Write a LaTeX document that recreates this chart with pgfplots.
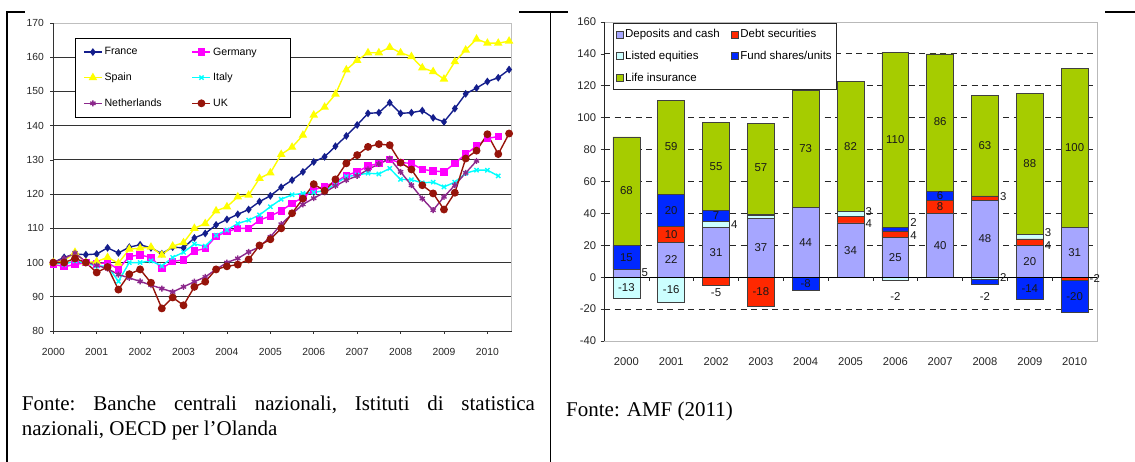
\documentclass[border=0pt]{standalone}
\usepackage{fontspec}
\setmainfont{Liberation Sans}
\newfontfamily\capfont{Liberation Serif}
\usepackage{pgfplots}
\usepackage{pgfplotstable}
\pgfplotsset{compat=1.18}

\definecolor{cFR}{RGB}{20,30,140}
\definecolor{cDE}{RGB}{255,0,255}
\definecolor{cES}{RGB}{255,255,0}
\definecolor{cIT}{RGB}{0,255,255}
\definecolor{cNL}{RGB}{140,40,140}
\definecolor{cUK}{RGB}{150,20,10}
\definecolor{cDep}{RGB}{166,166,255}
\definecolor{cDebt}{RGB}{255,40,0}
\definecolor{cList}{RGB}{204,255,255}
\definecolor{cFund}{RGB}{0,40,255}
\definecolor{cLife}{RGB}{166,204,0}

\pgfplotstableread{
x dep debt list fund life
0 5 0 0 15 68
1 22 10 0 20 59
2 31 0 4 7 55
3 37 0 1.5 1 57
4 44 0 0 0 73
5 34 4 3 0 82
6 25 4 0 2 110
7 40 8 0 6 86
8 48 3 0 0 63
9 20 4 3 0 88
10 31 0 0 0 100
}\posdata

\pgfplotstableread{
x dep debt list fund
0 0 0 -13 0
1 0 0 -16 0
2 0 -5 0 0
3 0 -18 0 0
4 0 0 0 -8
5 0 0 0 0
6 0 0 -2 0
7 0 0 0 0
8 0 0 -1.2 -3
9 0 0 0 -14
10 0 -2 0 -20
}\negdata

\pgfplotstableread{
x y l
0 54 68
0 12.5 15
0 -6.5 -13
1 82 59
1 42 20
1 27 10
1 11 22
1 -8 -16
2 69.5 55
2 38.5 7
2 15.5 31
2 -9.5 -5
3 68.5 57
3 18.5 37
3 -9 -18
4 80.5 73
4 22 44
4 -4 -8
5 82 82
5 17 34
6 86.5 110
6 12.5 25
6 -12 -2
7 97.5 86
7 51 6
7 44 8
7 20 40
8 82.5 63
8 24 48
8 -12 -2
9 71 88
9 10 20
9 -7 -14
10 81 100
10 15.5 31
10 -12 -20
}\labc

\pgfplotstableread{
x y l
0.3 3 5
2.3 33 4
5.3 41 3
5.3 33.5 4
6.3 34.5 2
6.3 26 4
8.3 50.5 3
8.3 0 2
9.3 28 3
9.3 20 4
10.3 -1 -2
}\labs

\pgfplotsset{
  rbox/.style={at={(604pt,121pt)}, anchor=south west, scale only axis,
    width=493pt, height=319pt, xmin=-0.5, xmax=10.5, ymin=-40, ymax=160},
  barst/.style={draw=black!75, line width=0.6pt},
}

\begin{document}
\begin{tikzpicture}
\useasboundingbox (0,0) rectangle (1135pt,462pt);

% ---------------- left chart ----------------
\begin{axis}[
  at={(53.3pt,131pt)}, anchor=south west,
  scale only axis, width=458.4pt, height=308pt,
  xmin=2000, xmax=2010.56, ymin=80, ymax=170,
  xtick={2000,2001,...,2010},
  ytick={90,100,...,160}, extra y ticks={80,170}, extra y tick style={grid=none},
  /pgf/number format/1000 sep={},
  /pgf/number format/assume math mode=true,
  tick label style={font=\fontsize{10.3}{12}\selectfont, text=black!85},
  xtick pos=left, ytick pos=left, tick align=outside, major tick length=3pt,
  tick style={black!80, line width=0.6pt},
  yticklabel style={xshift=-3pt},
  xticklabel style={yshift=-11pt},
  ymajorgrids, grid style={black!80, line width=0.8pt},
  axis line style={gray!50, line width=0.8pt},
  clip=false,
  legend columns=2,
  legend cell align=left,
  legend image code/.code={\draw[mark repeat=2,mark phase=2,#1] plot coordinates {(0pt,0pt) (9pt,0pt) (18pt,0pt)};},
  legend style={at={(0.047,0.952)}, anchor=north west, draw=black, line width=0.7pt, fill=white,
    font=\fontsize{10.6}{12}\selectfont, inner xsep=8pt, inner ysep=7.5pt, row sep=12.5pt,
    /tikz/every even column/.append style={column sep=28pt}},
]
\addplot[color=cFR, line width=1.4pt, mark=diamond*, mark size=2.8pt] coordinates {
(2000.00,100) (2000.25,101.5) (2000.50,102.5) (2000.75,102.3) (2001.00,102.5) (2001.25,104.3) (2001.50,102.8) (2001.75,104.5)
(2002.00,105.2) (2002.25,104.3) (2002.50,102.6) (2002.75,104.5) (2003.00,104.3) (2003.25,107.2) (2003.50,108.5) (2003.75,111)
(2004.00,112.6) (2004.25,114.1) (2004.50,115.5) (2004.75,117.8) (2005.00,119.5) (2005.25,122) (2005.50,124.1) (2005.75,126.5)
(2006.00,129.4) (2006.25,130.9) (2006.50,134) (2006.75,137) (2007.00,140.2) (2007.25,143.6) (2007.50,143.8) (2007.75,146.7)
(2008.00,143.6) (2008.25,143.8) (2008.50,144.4) (2008.75,142.3) (2009.00,141.1) (2009.25,145) (2009.50,149.3) (2009.75,151)
(2010.00,152.9) (2010.25,154) (2010.50,156.4)};
\addlegendentry{France}
\addplot[color=cDE, line width=1.4pt, mark=square*, mark size=3pt] coordinates {
(2000.00,99.5) (2000.25,98.8) (2000.50,99.4) (2000.75,100) (2001.00,99.6) (2001.25,100) (2001.50,98) (2001.75,101.8)
(2002.00,102.2) (2002.25,101.5) (2002.50,98.3) (2002.75,100.3) (2003.00,100.8) (2003.25,103.4) (2003.50,104.1) (2003.75,107.7)
(2004.00,109) (2004.25,110) (2004.50,110) (2004.75,112.4) (2005.00,113.6) (2005.25,115.1) (2005.50,117.3) (2005.75,119)
(2006.00,121.2) (2006.25,122.3) (2006.50,123.5) (2006.75,125.5) (2007.00,126.5) (2007.25,128.2) (2007.50,129) (2007.75,130.1)
(2008.00,129.2) (2008.25,129) (2008.50,127.2) (2008.75,126.8) (2009.00,126.5) (2009.25,129) (2009.50,131.7) (2009.75,134)
(2010.00,136.3) (2010.25,136.8)};
\addlegendentry{Germany\hspace*{24pt}}
\addplot[color=cES, line width=1.4pt, mark=triangle*, mark size=3.6pt] coordinates {
(2000.00,100) (2000.25,100.5) (2000.50,103) (2000.75,100) (2001.00,100.3) (2001.25,101.5) (2001.50,99.8) (2001.75,103.9)
(2002.00,104.2) (2002.25,104.5) (2002.50,102.2) (2002.75,104.8) (2003.00,105.8) (2003.25,110) (2003.50,111.4) (2003.75,115.1)
(2004.00,116.3) (2004.25,119.2) (2004.50,119.7) (2004.75,124.6) (2005.00,126.2) (2005.25,131.6) (2005.50,133.7) (2005.75,137.2)
(2006.00,143.1) (2006.25,145.4) (2006.50,149.2) (2006.75,156.3) (2007.00,159.1) (2007.25,161.3) (2007.50,161.3) (2007.75,162.9)
(2008.00,161.3) (2008.25,160.2) (2008.50,156.9) (2008.75,155.8) (2009.00,153.6) (2009.25,158.7) (2009.50,162.1) (2009.75,165.3)
(2010.00,164.1) (2010.25,164.1) (2010.50,164.7)};
\addlegendentry{Spain}
\addplot[color=cIT, line width=1.4pt, mark=x, mark size=3pt] coordinates {
(2000.00,100) (2000.25,99.5) (2000.50,100.5) (2000.75,99.8) (2001.00,99) (2001.25,99) (2001.50,94.5) (2001.75,100)
(2002.00,100) (2002.25,100.5) (2002.50,99) (2002.75,101.5) (2003.00,103) (2003.25,105.4) (2003.50,104.8) (2003.75,108)
(2004.00,109.5) (2004.25,111.4) (2004.50,112.4) (2004.75,113.9) (2005.00,116.3) (2005.25,118.5) (2005.50,119.8) (2005.75,120.2)
(2006.00,120.5) (2006.25,121) (2006.50,123) (2006.75,125.1) (2007.00,125.6) (2007.25,126.1) (2007.50,125.9) (2007.75,127.5)
(2008.00,124.3) (2008.25,124.2) (2008.50,123.3) (2008.75,123.5) (2009.00,122.1) (2009.25,123.5) (2009.50,126.1) (2009.75,127)
(2010.00,127) (2010.25,125.3)};
\addlegendentry{Italy}
\addplot[color=cNL, line width=1.4pt, mark=asterisk, mark size=3pt] coordinates {
(2000.00,100) (2000.25,101.2) (2000.50,102.8) (2000.75,100.2) (2001.00,99.2) (2001.25,98.2) (2001.50,96.5) (2001.75,95.5)
(2002.00,94.5) (2002.25,93.4) (2002.50,92.4) (2002.75,91.4) (2003.00,92.9) (2003.25,94.4) (2003.50,95.8) (2003.75,98)
(2004.00,100) (2004.25,101.2) (2004.50,103.1) (2004.75,104.6) (2005.00,107.5) (2005.25,111.2) (2005.50,114.2) (2005.75,117)
(2006.00,118.8) (2006.25,120.5) (2006.50,122.4) (2006.75,124.1) (2007.00,125.3) (2007.25,127.2) (2007.50,128.8) (2007.75,130.4)
(2008.00,126.5) (2008.25,122.6) (2008.50,118.7) (2008.75,115.3) (2009.00,119.2) (2009.25,122.6) (2009.50,126.2) (2009.75,129.7)};
\addlegendentry{Netherlands}
\addplot[color=cUK, line width=1.4pt, mark=*, mark size=3.2pt] coordinates {
(2000.00,100) (2000.25,100) (2000.50,101.2) (2000.75,100) (2001.00,97.1) (2001.25,98.7) (2001.50,92.1) (2001.75,96.6)
(2002.00,98) (2002.25,94.1) (2002.50,86.6) (2002.75,89.8) (2003.00,87.5) (2003.25,92.9) (2003.50,94.4) (2003.75,98)
(2004.00,98.9) (2004.25,99.4) (2004.50,100.9) (2004.75,105) (2005.00,106.8) (2005.25,110) (2005.50,114.4) (2005.75,118.7)
(2006.00,122.9) (2006.25,121) (2006.50,124.3) (2006.75,129) (2007.00,131.4) (2007.25,133.8) (2007.50,134.6) (2007.75,134.3)
(2008.00,129.2) (2008.25,127.2) (2008.50,122.6) (2008.75,120.2) (2009.00,115.5) (2009.25,120.4) (2009.50,130.4) (2009.75,132.7)
(2010.00,137.5) (2010.25,131.7) (2010.50,137.7)};
\addlegendentry{UK}
\draw[black!80, line width=0.8pt] (rel axis cs:0,1) -- (rel axis cs:0,0) -- (rel axis cs:1,0);
\end{axis}

% ---------------- right chart: positive stack ----------------
\begin{axis}[rbox,
  ybar stacked, bar width=0.6,
  xtick={0,1,2,3,4,5,6,7,8,9,10},
  xticklabels={2000,2001,2002,2003,2004,2005,2006,2007,2008,2009,2010},
  x tick style={draw=none},
  ytick={-20,20,40,60,80,100,120,140}, extra y ticks={-40,0,160}, extra y tick style={grid=none},
  /pgf/number format/assume math mode=true,
  tick label style={font=\fontsize{11.2}{13}\selectfont, text=black!85},
  ytick pos=left, tick align=outside, major tick length=3.3pt,
  y tick style={black!80, line width=0.6pt},
  yticklabel style={xshift=-1pt},
  xticklabel style={yshift=-10pt},
  ymajorgrids, grid style={dash pattern=on 6pt off 4.5pt, black!85, line width=0.8pt},
  axis line style={gray!55, line width=0.8pt},
  legend columns=2,
  legend cell align=left,
  legend image code/.code={\draw[#1, line width=0.6pt] (0pt,-3.5pt) rectangle (7pt,3.5pt);},
  legend style={at={(0.0176,0.998)}, anchor=north west, draw=black!85, line width=0.7pt, fill=white,
    font=\fontsize{11.5}{13}\selectfont, inner xsep=2.5pt, inner ysep=4.5pt, row sep=8pt,
    /tikz/every even column/.append style={column sep=9pt}},
]
\addplot[barst, fill=cDep] table[x=x,y=dep]{\posdata};
\addlegendentry{Deposits and cash}
\addplot[barst, fill=cDebt] table[x=x,y=debt]{\posdata};
\addlegendentry{Debt securities}
\addplot[barst, fill=cList] table[x=x,y=list]{\posdata};
\addlegendentry{Listed equities}
\addplot[barst, fill=cFund] table[x=x,y=fund]{\posdata};
\addlegendentry{Fund shares/units}
\addplot[barst, fill=cLife] table[x=x,y=life]{\posdata};
\addlegendentry{Life insurance}
\end{axis}

% ---------------- right chart: negative stack ----------------
\begin{axis}[rbox, hide axis, ybar stacked, bar width=0.6]
\addplot[barst, fill=cDep] table[x=x,y=dep]{\negdata};
\addplot[barst, fill=cDebt] table[x=x,y=debt]{\negdata};
\addplot[barst, fill=cList] table[x=x,y=list]{\negdata};
\addplot[barst, fill=cFund] table[x=x,y=fund]{\negdata};
\end{axis}

% ---------------- right chart: labels and zero line ----------------
\begin{axis}[rbox, hide axis, clip=false]
\addplot[only marks, mark=*, mark size=0pt, mark options={draw=none,fill=none},
  nodes near coords, point meta=explicit symbolic, nodes near coords align={center},
  every node near coord/.append style={font=\fontsize{11.4}{13}\selectfont, text=black!90, inner sep=0pt, anchor=center}]
  table[x=x,y=y,meta=l]{\labc};
\addplot[only marks, mark=*, mark size=0pt, mark options={draw=none,fill=none},
  nodes near coords, point meta=explicit symbolic, nodes near coords align={center},
  every node near coord/.append style={font=\fontsize{11.4}{13}\selectfont, text=black!90, inner sep=1.5pt, anchor=west}]
  table[x=x,y=y,meta=l]{\labs};
\draw[black, line width=0.9pt] (axis cs:-0.5,0) -- (axis cs:10.5,0);
\draw[black!85, line width=0.8pt] (rel axis cs:0,0) -- (rel axis cs:0,1);
\draw[black!85, line width=0.6pt] (axis cs:0.5,0) -- ++(0pt,-4pt);
\draw[black!85, line width=0.6pt] (axis cs:1.5,0) -- ++(0pt,-4pt);
\draw[black!85, line width=0.6pt] (axis cs:2.5,0) -- ++(0pt,-4pt);
\draw[black!85, line width=0.6pt] (axis cs:3.5,0) -- ++(0pt,-4pt);
\draw[black!85, line width=0.6pt] (axis cs:4.5,0) -- ++(0pt,-4pt);
\draw[black!85, line width=0.6pt] (axis cs:5.5,0) -- ++(0pt,-4pt);
\draw[black!85, line width=0.6pt] (axis cs:6.5,0) -- ++(0pt,-4pt);
\draw[black!85, line width=0.6pt] (axis cs:7.5,0) -- ++(0pt,-4pt);
\draw[black!85, line width=0.6pt] (axis cs:8.5,0) -- ++(0pt,-4pt);
\draw[black!85, line width=0.6pt] (axis cs:9.5,0) -- ++(0pt,-4pt);
\end{axis}

% ---------------- frame lines and captions ----------------
\draw[black, line width=1.1pt] (7pt,0pt) -- (7pt,450pt) -- (25pt,450pt);
\draw[black, line width=1.1pt] (519pt,450pt) -- (568pt,450pt);
\draw[black, line width=1.1pt] (550.5pt,0pt) -- (550.5pt,450pt);
\draw[black, line width=1.1pt] (1105pt,450pt) -- (1135pt,450pt);

\node[anchor=base west, inner sep=0pt] at (21.7pt,51pt)
  {\capfont\fontsize{21}{24}\selectfont\frenchspacing\makebox[513pt][s]{Fonte: Banche centrali nazionali, Istituti di statistica}};
\node[anchor=base west, inner sep=0pt] at (21.7pt,26.5pt)
  {\capfont\fontsize{21}{24}\selectfont nazionali, OECD per l’Olanda};
\node[anchor=base west, inner sep=0pt] at (566pt,45.3pt)
  {\capfont\fontsize{21}{24}\selectfont Fonte: AMF (2011)};
\end{tikzpicture}
\end{document}
